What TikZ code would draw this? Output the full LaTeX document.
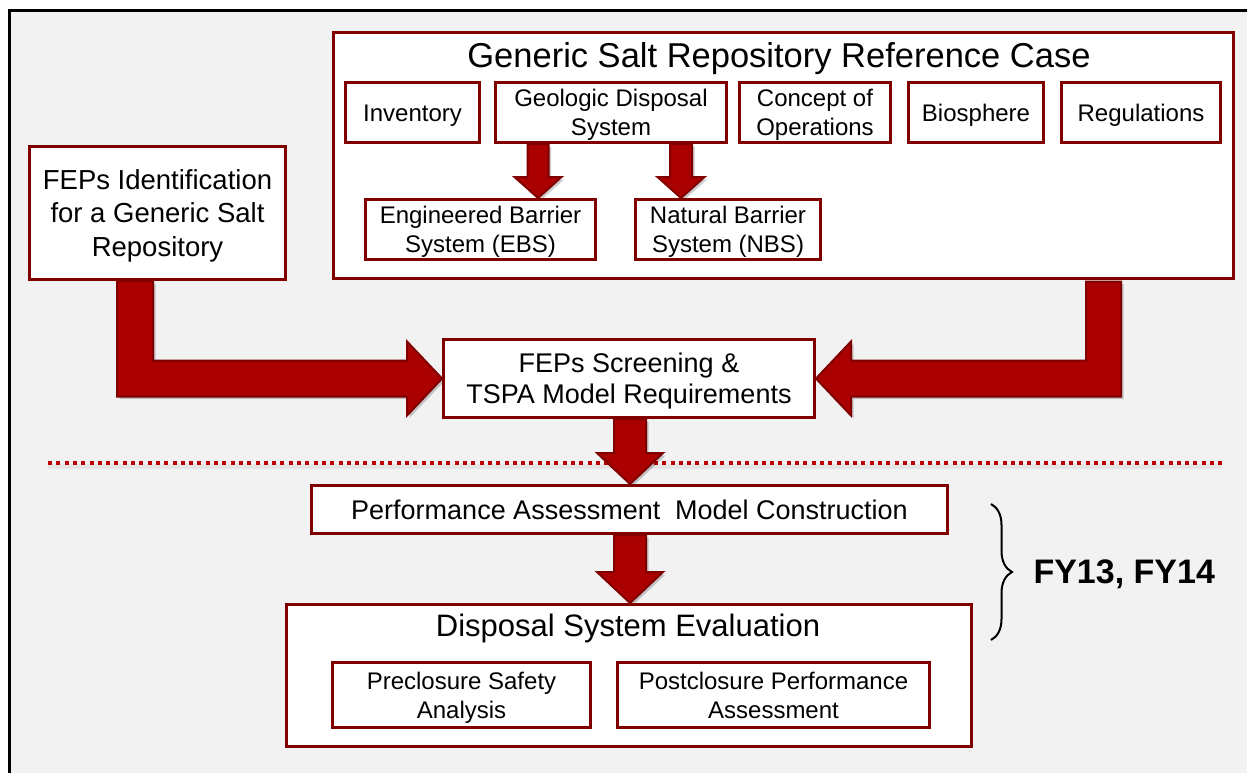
\documentclass[tikz,border=0pt]{standalone}
\usepackage{fontspec}
\setmainfont{Liberation Sans}
\usetikzlibrary{calc,shadows,decorations.pathreplacing}

\definecolor{panelgray}{RGB}{242,242,242}
\definecolor{boxred}{RGB}{128,0,0}
\definecolor{arrowred}{RGB}{170,0,0}
\definecolor{dotred}{RGB}{192,0,0}

\pgfdeclarelayer{bg}
\pgfdeclarelayer{panels}
\pgfdeclarelayer{arrows}
\pgfsetlayers{bg,panels,arrows,main}

\newcommand\setfs[2]{\fontsize{#1}{#2}\selectfont}
% lines whose box runs from the cap height of the first line to the baseline of the last
\newcommand\capfirst[1]{\rule{0pt}{0.716em}\smash{#1}}
\newcommand\capnext[1]{\smash{#1}}

\tikzset{
  box/.style={draw=boxred, line width=3pt, fill=white, inner sep=0pt,
    align=center, text=black},
  sbox/.style={box, minimum height=60pt, font=\setfs{24}{28.5}},
  fatarrow/.style={fill=arrowred, draw=boxred, line width=2pt, line join=miter,
    drop shadow={shadow xshift=2.5pt, shadow yshift=-2.5pt, opacity=0.2, fill=black}},
  sepline/.style={draw=dotred, line width=4pt, dash pattern=on 4pt off 4.3pt},
  bracestyle/.style={decorate, decoration={brace, amplitude=21pt}, line width=2pt, draw=black}
}

% block arrow pointing down: x, start anchor, end anchor, shaft half width, head half width, head length
\newcommand\fatdown[6]{%
  \filldraw[fatarrow] let \p1=(#2), \p2=(#3) in
    (#1pt-#4pt,\y1) -- (#1pt+#4pt,\y1) -- (#1pt+#4pt,\y2+#6pt) -- (#1pt+#5pt,\y2+#6pt)
    -- (#1pt,\y2) -- (#1pt-#5pt,\y2+#6pt) -- (#1pt-#4pt,\y2+#6pt) -- cycle;}

\begin{document}
\begin{tikzpicture}[x=1pt,y=-1pt]
\useasboundingbox (0,0) rectangle (1247,773);

% ---------- boxes ----------
\node[box, minimum width=256pt, minimum height=133pt, font=\setfs{27.5}{33.5}] (fepid) at (157.5,213)
  {\capfirst{FEPs Identification}\\\capnext{for a Generic Salt}\\\capnext{Repository}};

\begin{pgfonlayer}{panels}
  \node[box, minimum width=900pt, minimum height=246pt] (refcase) at (783.5,155.5) {};
\end{pgfonlayer}
\node[anchor=base, font=\setfs{34.5}{40}] (rctitle) at (779,68) {Generic Salt Repository Reference Case};

\node[sbox, minimum width=134pt] (inv) at (412.5,112.5) {\capfirst{Inventory}};
\node[sbox, minimum width=231pt] (gds) at (611,112.5) {\capfirst{Geologic Disposal}\\\capnext{System}};
\node[sbox, minimum width=151pt] (cop) at (815,112.5) {\capfirst{Concept of}\\\capnext{Operations}};
\node[sbox, minimum width=135pt] (bio) at (976,112.5) {\capfirst{Biosphere}};
\node[sbox, minimum width=159pt] (reg) at (1141,112.5) {\capfirst{Regulations}};
\node[sbox, minimum width=230pt] (ebs) at (480.5,229.5) {\capfirst{Engineered Barrier}\\\capnext{System (EBS)}};
\node[sbox, minimum width=185pt] (nbs) at (728,229.5) {\capfirst{Natural Barrier}\\\capnext{System (NBS)}};

\node[box, minimum width=371pt, minimum height=78pt, font=\setfs{27}{31.5}] (screen) at (629,378.5)
  {\capfirst{FEPs Screening \&}\\\capnext{TSPA Model Requirements}};

\node[box, minimum width=636pt, minimum height=48pt, font=\setfs{27}{32}] (pamc) at (629.5,509.5)
  {\capfirst{Performance Assessment\hspace{0.55em}Model Construction}};

\node[box, minimum width=685pt, minimum height=142pt] (dse) at (629,675.5) {};
\node[anchor=base, font=\setfs{31}{36}] (dsetitle) at (628,636) {Disposal System Evaluation};
\node[box, minimum width=258pt, minimum height=65pt, font=\setfs{24}{29}] (pre) at (461.5,695)
  {\capfirst{Preclosure Safety}\\\capnext{Analysis}};
\node[box, minimum width=312pt, minimum height=65pt, font=\setfs{24}{29}] (post) at (773.5,695)
  {\capfirst{Postclosure Performance}\\\capnext{Assessment}};

% ---------- bracket and period label ----------
\coordinate (brT) at (991,504);
\coordinate (brB) at (991,640);
\draw[bracestyle] (brT) -- (brB);
\node[anchor=base west, font=\bfseries\setfs{34}{40}] (fy) at (1030,583) {FY13, FY14};

% ---------- panel and separator ----------
\begin{pgfonlayer}{bg}
  \fill[white] (0,0) rectangle (1247,773);
  \fill[panelgray] (9,10.5) rectangle (1247,773);
  \draw[line width=3pt, line cap=rect] (9,773) -- (9,10.5) -- (1247,10.5);
  \coordinate (sepL) at (48,463);
  \coordinate (sepR) at (1222,463);
  \draw[line width=5pt, black, opacity=0.05] ([yshift=-3pt]sepL) -- ([yshift=-3pt]sepR);
  \draw[sepline] (sepL) -- (sepR);
\end{pgfonlayer}

% ---------- block arrows ----------
\begin{pgfonlayer}{arrows}
  \fatdown{538}{gds.south}{ebs.north}{10.5}{23.5}{21}
  \fatdown{681}{gds.south}{nbs.north}{11}{23.5}{21}
  \fatdown{630}{screen.south}{pamc.north}{16}{33}{31}
  \fatdown{630}{pamc.south}{dse.north}{16}{33}{31}

  \filldraw[fatarrow] let \p1=(fepid.south), \p2=(screen.west) in
    (117pt,\y1) -- (153pt,\y1) -- (153pt,\y2+18pt) -- (\x2-35pt,\y2+18pt)
    -- (\x2-35pt,\y2+37pt) -- (\x2,\y2) -- (\x2-35pt,\y2-37pt)
    -- (\x2-35pt,\y2-18pt) -- (117pt,\y2-18pt) -- cycle;

  \filldraw[fatarrow] let \p1=(refcase.south), \p2=(screen.east) in
    (1121pt,\y1-1.5pt) -- (1086pt,\y1-1.5pt) -- (1086pt,\y2+18pt) -- (\x2+35pt,\y2+18pt)
    -- (\x2+35pt,\y2+37pt) -- (\x2,\y2) -- (\x2+35pt,\y2-37pt)
    -- (\x2+35pt,\y2-18pt) -- (1121pt,\y2-18pt) -- cycle;
\end{pgfonlayer}
\end{tikzpicture}
\end{document}
